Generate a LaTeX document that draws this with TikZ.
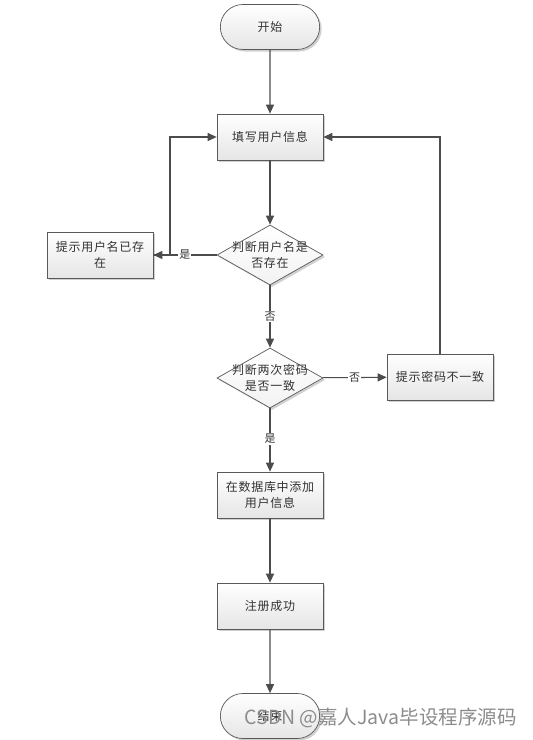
\documentclass[tikz,border=0pt]{standalone}
\usepackage{fontspec}
\newfontfamily\cjk[LetterSpace=6]{Noto Sans CJK SC}
\newfontfamily\wmfont{Noto Sans CJK SC}
\usetikzlibrary{shapes.geometric,shapes.misc,shadows,arrows.meta}
\begin{document}
\begin{tikzpicture}[x=1pt,y=-1pt,
  every node/.style={font=\cjk\fontsize{12}{16}\selectfont, text=black!80},
  base/.style={draw=black!65, line width=0.7pt, top color=white, bottom color=black!10,
    drop shadow={shadow xshift=2pt, shadow yshift=-2pt, fill=black!30, opacity=0.6}},
  procbox/.style={base, rectangle, minimum width=106pt, minimum height=46pt, inner sep=0pt, align=center, text width=100pt},
  term/.style={base, rounded rectangle, minimum width=106pt, minimum height=45pt},
  decision/.style={base, diamond, minimum width=106pt, minimum height=60pt, inner sep=0pt, top color=white, bottom color=black!5},
  dtext/.style={align=center, inner sep=0pt},
  conn/.style={draw=black!70, line width=1.1pt, -{Triangle[length=9pt,width=8pt]}},
  lbl/.style={fill=white, inner sep=1pt, font=\cjk\fontsize{11}{12}\selectfont}
]
\useasboundingbox (0,0) rectangle (533,740);
\fill[white] (0,0) rectangle (533,740);
\node[term] (start) at (270,27) {开始};
\node[procbox] (fill) at (270,137) {填写用户信息};
\node[decision] (d1) at (270,255) {};
\node[dtext] (d1t) at (d1) {判断用户名是\\否存在};
\node[procbox] (exist) at (100,255) {提示用户名已存\\在};
\node[decision] (d2) at (270,378) {};
\node[dtext] (d2t) at (d2) {判断两次密码\\是否一致};
\node[procbox] (mismatch) at (440,377) {提示密码不一致};
\node[procbox] (add) at (270,495) {在数据库中添加\\用户信息};
\node[procbox] (ok) at (270,606) {注册成功};
\node[term] (end) at (270,716) {结束};
\coordinate (lt) at (170,137);
\coordinate (lb) at (170,255);
\coordinate (rt) at (440,137);

\draw[conn] (start) -- (fill);
\draw[conn] (fill) -- (d1);
\draw[conn] (d1) -- node[lbl, pos=0.5]{是} (exist);
\draw[conn] (exist.east) -- (lb) -- (lt) -- (fill.west);
\draw[conn] (d1) -- node[lbl]{否} (d2);
\draw[conn] (d2) -- node[lbl]{否} (mismatch);
\draw[conn] (mismatch.north) -- (rt) -- (fill.east);
\draw[conn] (d2) -- node[lbl, pos=0.48]{是} (add);
\draw[conn] (add) -- (ok);
\draw[conn] (ok) -- (end);

\node[font=\wmfont\fontsize{19.5}{22}\selectfont, text=black!45, anchor=west] (wm) at (241,718) {CSDN @嘉人Java毕设程序源码};
\end{tikzpicture}
\end{document}
